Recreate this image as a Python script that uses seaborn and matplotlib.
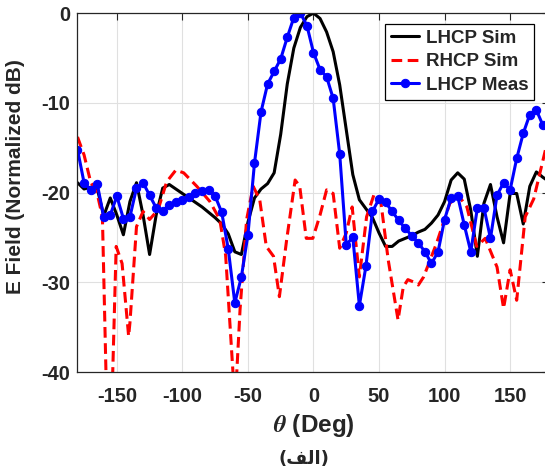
import seaborn as sns
import pandas as pd
import matplotlib.pyplot as plt

# measured LHCP, 5 deg steps
meas_theta = list(range(-180, 180, 5))
meas_db = [-15.2, -18.9, -19.7, -19.0, -22.7, -22.5, -20.4, -22.9, -22.7, -19.5,
           -18.9, -20.3, -21.7, -22.0, -21.4, -21.0, -20.8, -20.5, -20.1, -19.8,
           -19.7, -20.4, -22.2, -26.3, -32.3, -29.4, -24.7, -16.7, -11.0, -7.9,
           -6.5, -5.1, -2.7, -0.5, 0.0, -1.4, -4.4, -6.3, -7.1, -9.5,
           -15.7, -25.8, -25.0, -32.6, -28.2, -22.1, -20.7, -21.1, -22.1, -23.1,
           -24.0, -24.8, -25.6, -26.6, -27.9, -26.6, -23.0, -20.6, -20.4, -23.6,
           -26.6, -21.7, -21.7, -25.1, -20.3, -18.9, -19.7, -16.2, -13.4, -11.3,
           -10.8, -12.5]

# simulated LHCP
lhcp_theta = list(range(-180, 185, 5))
lhcp_db = [-18.9, -19.6, -19.4, -19.5, -22.6, -20.6, -22.5, -24.7, -21.0, -18.9,
           -22.5, -26.9, -22.5, -19.5, -19.1, -19.6, -20.1, -20.6, -21.1, -21.6,
           -22.2, -22.8, -23.5, -24.6, -26.6, -26.9, -23.3, -20.6, -19.6, -19.0,
           -17.8, -13.5, -7.9, -3.9, -1.6, -0.4, 0.0, -0.6, -2.1, -4.3,
           -8.0, -13.0, -18.0, -20.8, -21.8, -22.8, -24.5, -26.0, -26.0, -25.4,
           -25.1, -24.8, -24.4, -24.1, -23.4, -22.5, -21.0, -18.6, -17.8, -18.5,
           -22.0, -27.1, -21.2, -19.1, -22.7, -25.6, -20.1, -20.1, -23.5, -19.3,
           -17.7, -18.3, -18.8]

# simulated RHCP (irregular sampling)
rhcp_theta = [-180, -175, -170, -165, -161, -157.5, -153.5, -150.5, -146, -141,
              -140, -135, -130, -125, -118.5, -112, -105, -99, -89, -79,
              -71.5, -67, -64, -61, -58.5, -56, -51, -46, -41, -36,
              -30.5, -26, -20.5, -14, -10.5, -5.5, -0.5, 5, 10, 15,
              20, 25, 29.5, 35, 40.5, 46, 51, 57, 64.5, 68.5,
              72, 77, 80, 84, 94, 104, 110.5, 117, 124.5, 131,
              140, 145, 150, 155, 161.5, 168, 177, 180]
rhcp_db = [-13.8, -15.8, -18.8, -20.1, -22.7, -45.0, -42.0, -26.0, -27.9, -36.0,
           -34.5, -23.8, -22.1, -23.0, -21.9, -18.8, -17.5, -17.8, -19.3, -21.0,
           -23.0, -27.0, -34.0, -41.0, -40.0, -33.0, -23.0, -19.3, -20.8, -26.0,
           -27.1, -31.6, -25.3, -18.6, -19.3, -25.1, -25.1, -22.5, -19.7, -20.1,
           -26.2, -24.5, -21.6, -29.4, -22.7, -20.3, -20.6, -27.5, -34.2, -30.5,
           -29.7, -30.0, -30.3, -29.4, -25.6, -21.2, -20.3, -21.6, -26.0, -25.1,
           -28.3, -32.9, -28.6, -32.0, -22.7, -20.7, -15.2, -14.0]

sns.set_style('white')
plt.rcParams['font.family'] = ['Liberation Sans', 'DejaVu Sans']
plt.rcParams['font.weight'] = 'bold'
plt.rcParams['mathtext.fontset'] = 'stix'
plt.rcParams['axes.unicode_minus'] = False

fig = plt.figure(figsize=(5.45, 4.68), dpi=100)
ax = fig.add_axes([0.1422, 0.205, 0.866, 0.767])

sns.lineplot(x=lhcp_theta, y=lhcp_db, color='black', linewidth=2.2,
             label='LHCP Sim', ax=ax)
sns.lineplot(x=rhcp_theta, y=rhcp_db, color='red', linewidth=2.2,
             linestyle=(0, (3.5, 1.8)), label='RHCP Sim', ax=ax)
sns.lineplot(x=meas_theta, y=meas_db, color='blue', linewidth=2.2,
             marker='o', markersize=6, markeredgecolor='blue',
             label='LHCP Meas', ax=ax)

ax.set_xlim(-180, 180)
ax.set_ylim(-40, 0)
ax.set_xticks([-150, -100, -50, 0, 50, 100, 150])
ax.set_yticks([-40, -30, -20, -10, 0])
ax.grid(True, color='#e0e0e0', linewidth=0.8)
ax.tick_params(direction='in', top=True, right=True, labelsize=14.5,
               length=5, width=0.8, colors='#262626')
ax.tick_params(axis='x', pad=11)
ax.tick_params(axis='y', pad=5)
for lab in ax.get_xticklabels() + ax.get_yticklabels():
    lab.set_fontweight('bold')
    lab.set_color('#262626')
for s in ax.spines.values():
    s.set_color('#262626')
    s.set_linewidth(0.9)

ax.set_xlabel(r'$\theta$ (Deg)', fontsize=17.5, fontweight='bold', labelpad=4,
              color='#262626')
ax.set_ylabel('E Field (Normalized dB)', fontsize=15, fontweight='bold',
              labelpad=5, color='#262626')
ax.yaxis.set_label_coords(-0.112, 0.544)

leg = ax.legend(loc='upper right', bbox_to_anchor=(0.967, 0.970), borderaxespad=0,
                fancybox=False, edgecolor='black', framealpha=1,
                prop={'weight': 'bold', 'size': 13.5}, handlelength=1.5,
                handletextpad=0.35, borderpad=0.3, labelspacing=0.35)
leg.get_frame().set_linewidth(0.9)

# Persian caption, pre-shaped for left-to-right drawing
fig.text(0.557, 0.019, '(\uFED2\uFEDF\uFE8D)', ha='center', va='center',
         fontsize=13, fontweight='bold', family=['DejaVu Sans'], color='#262626')

fig.savefig('out.png', dpi=100)
